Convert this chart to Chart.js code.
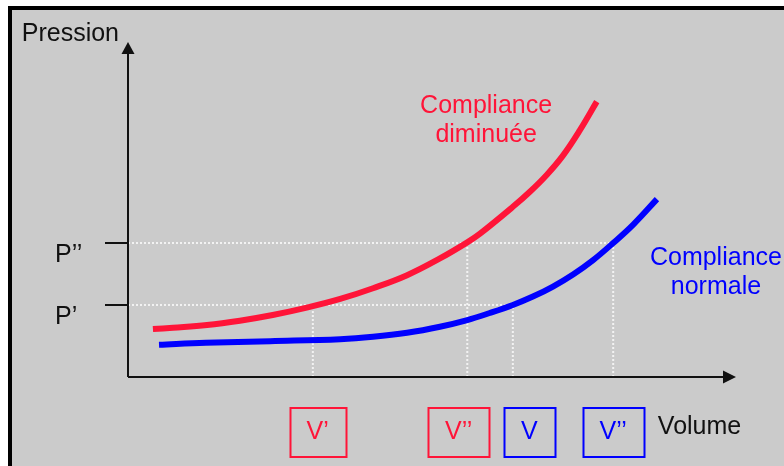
<!DOCTYPE html>
<html>
<head>
<meta charset="utf-8">
<script src="https://cdn.jsdelivr.net/npm/chart.js@4"></script>
<style>
  html, body { margin: 0; padding: 0; background: #fff; width: 784px; height: 466px; overflow: hidden; }
  .panel { position: absolute; left: 8px; top: 6px; right: 0; bottom: 0; background: #cbcbcb;
           border-left: 4px solid #000; border-top: 4px solid #000; }
  canvas { position: absolute; left: 0; top: 0; }
</style>
</head>
<body>
<div class="panel"></div>
<canvas id="compliance-chart" width="784" height="466"></canvas>
<script>
// pressure levels marked on the y axis (P', P'')
const pressureTicks = [21.5, 40];
const pressureLabels = ['P’', 'P’’'];
// volumes reached on each curve at P' and P''
const volumeRed = [30.4, 55.8];
const volumeBlue = [63.3, 79.8];

// "Compliance diminuée" curve
const redX = [4.1, 7.4, 13.0, 18.4, 23.8, 29.4, 34.9, 40.3, 45.9, 51.3, 55.8, 57.9, 63.3, 66.1, 68.9, 71.5, 74.3, 77.1];
const redY = [14.3, 14.7, 15.5, 16.8, 18.5, 20.7, 23.3, 26.5, 30.4, 35.4, 40.2, 42.8, 50.8, 55.3, 60.4, 66.0, 73.6, 82.2];
// "Compliance normale" curve
const blueX = [5.1, 12.8, 23.4, 34.9, 40.3, 45.9, 51.3, 55.8, 59.5, 63.3, 66.6, 69.9, 73.2, 76.5, 79.8, 83.1, 87.0];
const blueY = [9.6, 10.2, 10.7, 11.3, 12.0, 13.2, 15.0, 17.0, 19.1, 21.5, 24.0, 27.0, 30.6, 34.9, 40.0, 45.5, 53.1];

// boxed volume labels under the x axis
const boxLabels = ['V’', 'V’’', 'V', 'V’’'];
const boxAt = [31.2, 54.4, 66.0, 79.8];

const red = '#ff1438';
const blue = '#0000ff';
const ink = '#111';
const boxColors = [red, red, blue, blue];

const curveLabels = [
    { lines: ['Compliance', 'diminuée'], x: 58.9, y: 78.8, color: red },
    { lines: ['Compliance', 'normale'], x: 96.7, y: 33.4, color: blue }
];

const toPoints = (xs, ys) => xs.map((v, i) => ({ x: v, y: ys[i] }));

// dotted guide lines from the axes to the curves
const guides = [];
pressureTicks.forEach((p, i) => {
    guides.push([{ x: 0, y: p }, { x: volumeBlue[i], y: p }]);
    guides.push([{ x: volumeRed[i], y: 0 }, { x: volumeRed[i], y: p }]);
    guides.push([{ x: volumeBlue[i], y: 0 }, { x: volumeBlue[i], y: p }]);
});

const font = "'Liberation Sans', Arial, sans-serif";
Chart.defaults.font.family = font;
Chart.defaults.font.size = 25;

const extras = {
    id: 'extras',
    afterDatasetsDraw(chart) {
        const { ctx, chartArea: a } = chart;
        ctx.save();
        ctx.strokeStyle = ink;
        ctx.fillStyle = ink;
        ctx.lineWidth = 2;
        ctx.beginPath();
        ctx.moveTo(a.left, a.bottom);
        ctx.lineTo(a.right - 12, a.bottom);
        ctx.moveTo(a.left, a.bottom);
        ctx.lineTo(a.left, a.top + 11);
        ctx.stroke();
        ctx.beginPath();
        ctx.moveTo(a.right, a.bottom);
        ctx.lineTo(a.right - 13, a.bottom - 6.5);
        ctx.lineTo(a.right - 13, a.bottom + 6.5);
        ctx.closePath();
        ctx.fill();
        ctx.beginPath();
        ctx.moveTo(a.left, a.top);
        ctx.lineTo(a.left - 6.5, a.top + 12);
        ctx.lineTo(a.left + 6.5, a.top + 12);
        ctx.closePath();
        ctx.fill();
        ctx.restore();
    },
    afterDraw(chart) {
        const { ctx, chartArea: a, scales: { x, y } } = chart;
        ctx.save();
        ctx.font = '25px ' + font;

        // boxes round the volume labels
        const cy = a.bottom + 55;
        let lastRight = 0;
        boxAt.forEach((v, i) => {
            const px = x.getPixelForValue(v);
            const w = ctx.measureText(boxLabels[i]).width + 34;
            ctx.strokeStyle = boxColors[i];
            ctx.lineWidth = 2;
            ctx.strokeRect(Math.round(px - w / 2) + 0.5, cy - 24, Math.round(w), 49);
            lastRight = px + w / 2;
        });

        ctx.fillStyle = ink;
        ctx.textBaseline = 'middle';
        ctx.textAlign = 'left';
        ctx.fillText('Volume', lastRight + 14, cy - 5);

        ctx.textBaseline = 'alphabetic';
        ctx.textAlign = 'right';
        ctx.fillText('Pression', a.left - 9, a.top - 1);

        ctx.textAlign = 'center';
        curveLabels.forEach(l => {
            ctx.fillStyle = l.color;
            const px = x.getPixelForValue(l.x);
            const py = y.getPixelForValue(l.y);
            l.lines.forEach((t, j) => ctx.fillText(t, px, py + j * 29));
        });
        ctx.restore();
    }
};

new Chart(document.getElementById('compliance-chart').getContext('2d'), {
    type: 'scatter',
    data: {
        datasets: [
            {
                data: toPoints(redX, redY),
                showLine: true,
                borderColor: red,
                borderWidth: 6,
                pointRadius: 0,
                tension: 0.4,
                order: 0
            },
            {
                data: toPoints(blueX, blueY),
                showLine: true,
                borderColor: blue,
                borderWidth: 6,
                pointRadius: 0,
                tension: 0.4,
                order: 0
            },
            ...guides.map(g => ({
                data: g,
                showLine: true,
                borderColor: '#f2f2f2',
                borderWidth: 2,
                borderDash: [2, 2],
                pointRadius: 0,
                order: 1
            }))
        ]
    },
    options: {
        responsive: false,
        animation: false,
        devicePixelRatio: 1,
        layout: { padding: { left: 55, top: 42, right: 48, bottom: 0 } },
        plugins: { legend: { display: false }, tooltip: { enabled: false } },
        scales: {
            x: {
                type: 'linear',
                min: 0,
                max: 100,
                afterBuildTicks: s => { s.ticks = boxAt.map(v => ({ value: v })); },
                afterFit: s => { s.height = 89; },
                grid: { display: false, drawTicks: false },
                border: { display: false },
                ticks: {
                    autoSkip: false,
                    maxRotation: 0,
                    minRotation: 0,
                    padding: 40,
                    color: c => boxColors[c.index],
                    callback: (v, i) => boxLabels[i]
                }
            },
            y: {
                type: 'linear',
                min: 0,
                max: 100,
                afterBuildTicks: s => { s.ticks = pressureTicks.map(v => ({ value: v })); },
                afterFit: s => { s.width = 73; },
                grid: { drawOnChartArea: false, drawTicks: true, tickLength: 23, color: ink, lineWidth: 2 },
                border: { display: false },
                ticks: {
                    autoSkip: false,
                    crossAlign: 'far',
                    labelOffset: 12,
                    padding: 0,
                    color: ink,
                    callback: (v, i) => pressureLabels[i]
                }
            }
        }
    },
    plugins: [extras]
});
</script>
</body>
</html>
